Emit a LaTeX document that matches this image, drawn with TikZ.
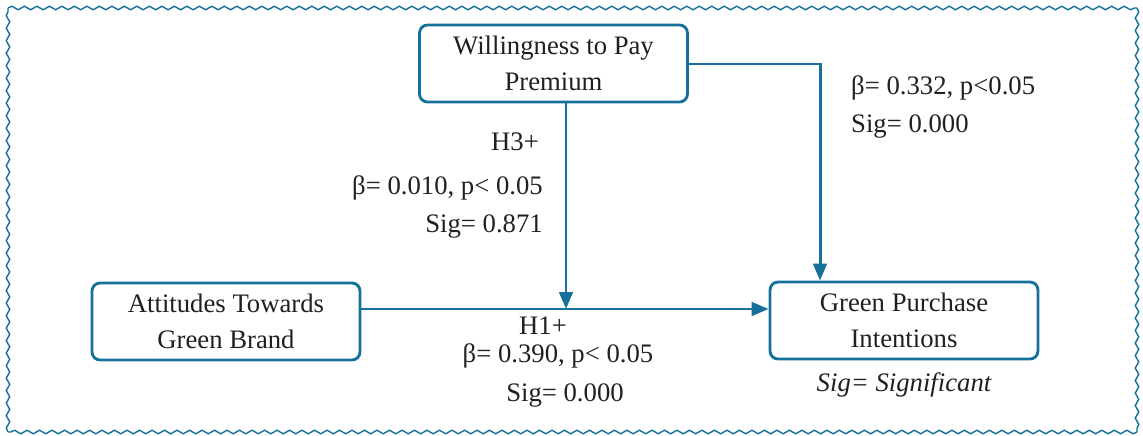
\documentclass[tikz,border=0pt]{standalone}
\usepackage{fontspec}
\setmainfont{Liberation Serif}
\usepackage{tikz}
\usetikzlibrary{%
  arrows.meta,%
  decorations.pathmorphing,%
  positioning
}
\definecolor{lineblue}{HTML}{16709C}
\definecolor{textgray}{HTML}{231F20}

\begin{document}
\begin{tikzpicture}[x=0.02cm,y=-0.02cm,
    every node/.style={text=textgray,font=\fontsize{15.2}{20.5}\selectfont},
    varbox/.style={draw=lineblue,line width=1.6pt,rounded corners=0.16cm,
      minimum width=5.36cm,minimum height=1.54cm,align=center,inner sep=0pt},
    link/.style={draw=lineblue,line width=1.7pt,-{Triangle[length=0.34cm,width=0.27cm]}},
    wavy/.style={lineblue,line width=0.8pt,decorate,
      decoration={snake,segment length=0.25cm,amplitude=0.035cm}}]
    \useasboundingbox (0,0) rectangle (1143,436);
    % frame
    \draw [wavy] (8,8) -- (1137,8);
    \draw [wavy] (1137,8) -- (1137,432);
    \draw [wavy] (1137,432) -- (8,432);
    \draw [wavy] (8,432) -- (8,8);
    % variables
    \node [varbox] (wtp) at (553.5,63.5) {Willingness to Pay\\Premium};
    \node [varbox] (atgb) at (226,321.5) {Attitudes Towards\\Green Brand};
    \node [varbox] (gpi) at (904,320.5) {Green Purchase\\Intentions};
    \coordinate (junc) at (566,309);
    \coordinate (bend) at (820,64);
    % paths
    \draw [link] (atgb.east |- junc) -- (gpi.west |- junc);
    \draw [link] (wtp.south -| junc) -- (junc);
    \draw [link] (wtp.east |- bend) -- (bend) -- (bend |- gpi.north);
    % labels
    \node (h3) at (515,142) {H3+};
    \node [anchor=east] (b3) at (549,188) {β= 0.010, p< 0.05};
    \node [anchor=east] (s3) at (549,226) {Sig= 0.871};
    \node [anchor=west] (b2) at (845,88) {β= 0.332, p<0.05};
    \node [anchor=west] (s2) at (845,126) {Sig= 0.000};
    \node (h1) at (543,326) {H1+};
    \node (b1) at (558,356) {β= 0.390, p< 0.05};
    \node (s1) at (565,395) {Sig= 0.000};
    \node [below=0.12cm of gpi,font=\fontsize{15.2}{20.5}\selectfont\itshape] (sig) {Sig= Significant};
\end{tikzpicture}
\end{document}
